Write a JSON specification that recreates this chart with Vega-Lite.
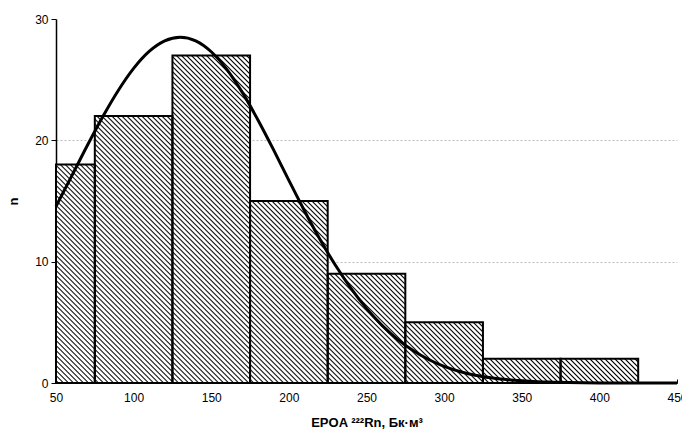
{
  "$schema": "https://vega.github.io/schema/vega-lite/v6.json",
  "autosize": "none",
  "width": 621,
  "height": 364,
  "padding": {"left": 56, "top": 19, "right": 5, "bottom": 50},
  "background": "white",
  "config": {"view": {"stroke": null}, "font": "Liberation Sans"},
  "datasets": {
    "bins": [
      {"bin_start": 50, "bin_end": 75, "n": 18},
      {"bin_start": 75, "bin_end": 125, "n": 22},
      {"bin_start": 125, "bin_end": 175, "n": 27},
      {"bin_start": 175, "bin_end": 225, "n": 15},
      {"bin_start": 225, "bin_end": 275, "n": 9},
      {"bin_start": 275, "bin_end": 325, "n": 5},
      {"bin_start": 325, "bin_end": 375, "n": 2},
      {"bin_start": 375, "bin_end": 425, "n": 2}
    ],
    "curve": [
      {"x": 50, "n": 14.56}, {"x": 60, "n": 17.03}, {"x": 70, "n": 19.53}, {"x": 80, "n": 21.92},
      {"x": 90, "n": 24.09}, {"x": 100, "n": 25.93}, {"x": 110, "n": 27.33}, {"x": 120, "n": 28.2},
      {"x": 130, "n": 28.5}, {"x": 140, "n": 28.2}, {"x": 150, "n": 27.3}, {"x": 160, "n": 25.85},
      {"x": 170, "n": 23.95}, {"x": 180, "n": 21.7}, {"x": 190, "n": 19.25}, {"x": 200, "n": 16.7},
      {"x": 210, "n": 14.2}, {"x": 220, "n": 11.85}, {"x": 230, "n": 9.7}, {"x": 240, "n": 7.8},
      {"x": 250, "n": 6.15}, {"x": 260, "n": 4.75}, {"x": 270, "n": 3.6}, {"x": 280, "n": 2.68},
      {"x": 290, "n": 1.94}, {"x": 300, "n": 1.37}, {"x": 310, "n": 0.95}, {"x": 320, "n": 0.64},
      {"x": 330, "n": 0.43}, {"x": 340, "n": 0.28}, {"x": 350, "n": 0.18}, {"x": 360, "n": 0.11},
      {"x": 370, "n": 0.07}, {"x": 380, "n": 0.04}, {"x": 390, "n": 0.02}, {"x": 400, "n": 0.01},
      {"x": 410, "n": 0.01}, {"x": 420, "n": 0.0}, {"x": 430, "n": 0.0}, {"x": 440, "n": 0.0},
      {"x": 450, "n": 0.0}
    ]
  },
  "layer": [
    {
      "data": {"name": "bins"},
      "transform": [{"fold": ["bin_start", "bin_end"], "as": ["edge", "x"]}],
      "mark": {
        "type": "area",
        "interpolate": "linear",
        "orient": "vertical",
        "fill": {
          "gradient": "linear",
          "x1": 0, "y1": 1, "x2": 1.1869, "y2": 0.3321,
          "stops": [
{"offset":0.0012,"color":"#fff"},{"offset":0.0028,"color":"#000"},{"offset":0.0044,"color":"#fff"},
{"offset":0.0067,"color":"#fff"},{"offset":0.0083,"color":"#000"},{"offset":0.0099,"color":"#fff"},
{"offset":0.0122,"color":"#fff"},{"offset":0.0138,"color":"#000"},{"offset":0.0154,"color":"#fff"},
{"offset":0.0177,"color":"#fff"},{"offset":0.0193,"color":"#000"},{"offset":0.0209,"color":"#fff"},
{"offset":0.0232,"color":"#fff"},{"offset":0.0248,"color":"#000"},{"offset":0.0264,"color":"#fff"},
{"offset":0.0287,"color":"#fff"},{"offset":0.0303,"color":"#000"},{"offset":0.0319,"color":"#fff"},
{"offset":0.0342,"color":"#fff"},{"offset":0.0358,"color":"#000"},{"offset":0.0374,"color":"#fff"},
{"offset":0.0397,"color":"#fff"},{"offset":0.0413,"color":"#000"},{"offset":0.0429,"color":"#fff"},
{"offset":0.0452,"color":"#fff"},{"offset":0.0468,"color":"#000"},{"offset":0.0484,"color":"#fff"},
{"offset":0.0507,"color":"#fff"},{"offset":0.0523,"color":"#000"},{"offset":0.0539,"color":"#fff"},
{"offset":0.0562,"color":"#fff"},{"offset":0.0578,"color":"#000"},{"offset":0.0594,"color":"#fff"},
{"offset":0.0617,"color":"#fff"},{"offset":0.0633,"color":"#000"},{"offset":0.0649,"color":"#fff"},
{"offset":0.0672,"color":"#fff"},{"offset":0.0688,"color":"#000"},{"offset":0.0704,"color":"#fff"},
{"offset":0.0727,"color":"#fff"},{"offset":0.0743,"color":"#000"},{"offset":0.0759,"color":"#fff"},
{"offset":0.0782,"color":"#fff"},{"offset":0.0798,"color":"#000"},{"offset":0.0814,"color":"#fff"},
{"offset":0.0837,"color":"#fff"},{"offset":0.0853,"color":"#000"},{"offset":0.0869,"color":"#fff"},
{"offset":0.0892,"color":"#fff"},{"offset":0.0908,"color":"#000"},{"offset":0.0924,"color":"#fff"},
{"offset":0.0947,"color":"#fff"},{"offset":0.0963,"color":"#000"},{"offset":0.0979,"color":"#fff"},
{"offset":0.1002,"color":"#fff"},{"offset":0.1018,"color":"#000"},{"offset":0.1034,"color":"#fff"},
{"offset":0.1057,"color":"#fff"},{"offset":0.1073,"color":"#000"},{"offset":0.1089,"color":"#fff"},
{"offset":0.1112,"color":"#fff"},{"offset":0.1128,"color":"#000"},{"offset":0.1144,"color":"#fff"},
{"offset":0.1167,"color":"#fff"},{"offset":0.1183,"color":"#000"},{"offset":0.1199,"color":"#fff"},
{"offset":0.1222,"color":"#fff"},{"offset":0.1238,"color":"#000"},{"offset":0.1254,"color":"#fff"},
{"offset":0.1277,"color":"#fff"},{"offset":0.1293,"color":"#000"},{"offset":0.1309,"color":"#fff"},
{"offset":0.1332,"color":"#fff"},{"offset":0.1348,"color":"#000"},{"offset":0.1364,"color":"#fff"},
{"offset":0.1387,"color":"#fff"},{"offset":0.1403,"color":"#000"},{"offset":0.1419,"color":"#fff"},
{"offset":0.1442,"color":"#fff"},{"offset":0.1458,"color":"#000"},{"offset":0.1474,"color":"#fff"},
{"offset":0.1497,"color":"#fff"},{"offset":0.1513,"color":"#000"},{"offset":0.1529,"color":"#fff"},
{"offset":0.1552,"color":"#fff"},{"offset":0.1568,"color":"#000"},{"offset":0.1584,"color":"#fff"},
{"offset":0.1607,"color":"#fff"},{"offset":0.1623,"color":"#000"},{"offset":0.1639,"color":"#fff"},
{"offset":0.1662,"color":"#fff"},{"offset":0.1678,"color":"#000"},{"offset":0.1694,"color":"#fff"},
{"offset":0.1717,"color":"#fff"},{"offset":0.1733,"color":"#000"},{"offset":0.1749,"color":"#fff"},
{"offset":0.1772,"color":"#fff"},{"offset":0.1788,"color":"#000"},{"offset":0.1804,"color":"#fff"},
{"offset":0.1827,"color":"#fff"},{"offset":0.1843,"color":"#000"},{"offset":0.1859,"color":"#fff"},
{"offset":0.1882,"color":"#fff"},{"offset":0.1898,"color":"#000"},{"offset":0.1914,"color":"#fff"},
{"offset":0.1937,"color":"#fff"},{"offset":0.1953,"color":"#000"},{"offset":0.1969,"color":"#fff"},
{"offset":0.1992,"color":"#fff"},{"offset":0.2008,"color":"#000"},{"offset":0.2024,"color":"#fff"},
{"offset":0.2047,"color":"#fff"},{"offset":0.2063,"color":"#000"},{"offset":0.2079,"color":"#fff"},
{"offset":0.2102,"color":"#fff"},{"offset":0.2118,"color":"#000"},{"offset":0.2134,"color":"#fff"},
{"offset":0.2157,"color":"#fff"},{"offset":0.2173,"color":"#000"},{"offset":0.2189,"color":"#fff"},
{"offset":0.2212,"color":"#fff"},{"offset":0.2228,"color":"#000"},{"offset":0.2244,"color":"#fff"},
{"offset":0.2267,"color":"#fff"},{"offset":0.2283,"color":"#000"},{"offset":0.2299,"color":"#fff"},
{"offset":0.2322,"color":"#fff"},{"offset":0.2338,"color":"#000"},{"offset":0.2354,"color":"#fff"},
{"offset":0.2377,"color":"#fff"},{"offset":0.2393,"color":"#000"},{"offset":0.2409,"color":"#fff"},
{"offset":0.2432,"color":"#fff"},{"offset":0.2448,"color":"#000"},{"offset":0.2464,"color":"#fff"},
{"offset":0.2487,"color":"#fff"},{"offset":0.2503,"color":"#000"},{"offset":0.2519,"color":"#fff"},
{"offset":0.2542,"color":"#fff"},{"offset":0.2558,"color":"#000"},{"offset":0.2574,"color":"#fff"},
{"offset":0.2597,"color":"#fff"},{"offset":0.2613,"color":"#000"},{"offset":0.2629,"color":"#fff"},
{"offset":0.2652,"color":"#fff"},{"offset":0.2668,"color":"#000"},{"offset":0.2684,"color":"#fff"},
{"offset":0.2707,"color":"#fff"},{"offset":0.2723,"color":"#000"},{"offset":0.2739,"color":"#fff"},
{"offset":0.2762,"color":"#fff"},{"offset":0.2778,"color":"#000"},{"offset":0.2794,"color":"#fff"},
{"offset":0.2817,"color":"#fff"},{"offset":0.2833,"color":"#000"},{"offset":0.2849,"color":"#fff"},
{"offset":0.2872,"color":"#fff"},{"offset":0.2888,"color":"#000"},{"offset":0.2904,"color":"#fff"},
{"offset":0.2927,"color":"#fff"},{"offset":0.2943,"color":"#000"},{"offset":0.2959,"color":"#fff"},
{"offset":0.2982,"color":"#fff"},{"offset":0.2998,"color":"#000"},{"offset":0.3014,"color":"#fff"},
{"offset":0.3037,"color":"#fff"},{"offset":0.3053,"color":"#000"},{"offset":0.3069,"color":"#fff"},
{"offset":0.3092,"color":"#fff"},{"offset":0.3108,"color":"#000"},{"offset":0.3124,"color":"#fff"},
{"offset":0.3147,"color":"#fff"},{"offset":0.3163,"color":"#000"},{"offset":0.3179,"color":"#fff"},
{"offset":0.3202,"color":"#fff"},{"offset":0.3218,"color":"#000"},{"offset":0.3234,"color":"#fff"},
{"offset":0.3257,"color":"#fff"},{"offset":0.3273,"color":"#000"},{"offset":0.3289,"color":"#fff"},
{"offset":0.3312,"color":"#fff"},{"offset":0.3328,"color":"#000"},{"offset":0.3344,"color":"#fff"},
{"offset":0.3367,"color":"#fff"},{"offset":0.3383,"color":"#000"},{"offset":0.3399,"color":"#fff"},
{"offset":0.3422,"color":"#fff"},{"offset":0.3438,"color":"#000"},{"offset":0.3454,"color":"#fff"},
{"offset":0.3477,"color":"#fff"},{"offset":0.3493,"color":"#000"},{"offset":0.3509,"color":"#fff"},
{"offset":0.3532,"color":"#fff"},{"offset":0.3548,"color":"#000"},{"offset":0.3564,"color":"#fff"},
{"offset":0.3587,"color":"#fff"},{"offset":0.3603,"color":"#000"},{"offset":0.3619,"color":"#fff"},
{"offset":0.3642,"color":"#fff"},{"offset":0.3658,"color":"#000"},{"offset":0.3674,"color":"#fff"},
{"offset":0.3697,"color":"#fff"},{"offset":0.3713,"color":"#000"},{"offset":0.3729,"color":"#fff"},
{"offset":0.3752,"color":"#fff"},{"offset":0.3768,"color":"#000"},{"offset":0.3784,"color":"#fff"},
{"offset":0.3807,"color":"#fff"},{"offset":0.3823,"color":"#000"},{"offset":0.3839,"color":"#fff"},
{"offset":0.3862,"color":"#fff"},{"offset":0.3878,"color":"#000"},{"offset":0.3894,"color":"#fff"},
{"offset":0.3917,"color":"#fff"},{"offset":0.3933,"color":"#000"},{"offset":0.3949,"color":"#fff"},
{"offset":0.3972,"color":"#fff"},{"offset":0.3988,"color":"#000"},{"offset":0.4004,"color":"#fff"},
{"offset":0.4027,"color":"#fff"},{"offset":0.4043,"color":"#000"},{"offset":0.4059,"color":"#fff"},
{"offset":0.4082,"color":"#fff"},{"offset":0.4098,"color":"#000"},{"offset":0.4114,"color":"#fff"},
{"offset":0.4137,"color":"#fff"},{"offset":0.4153,"color":"#000"},{"offset":0.4169,"color":"#fff"},
{"offset":0.4192,"color":"#fff"},{"offset":0.4208,"color":"#000"},{"offset":0.4224,"color":"#fff"},
{"offset":0.4247,"color":"#fff"},{"offset":0.4263,"color":"#000"},{"offset":0.4279,"color":"#fff"},
{"offset":0.4302,"color":"#fff"},{"offset":0.4318,"color":"#000"},{"offset":0.4334,"color":"#fff"},
{"offset":0.4357,"color":"#fff"},{"offset":0.4373,"color":"#000"},{"offset":0.4389,"color":"#fff"},
{"offset":0.4412,"color":"#fff"},{"offset":0.4428,"color":"#000"},{"offset":0.4444,"color":"#fff"},
{"offset":0.4467,"color":"#fff"},{"offset":0.4483,"color":"#000"},{"offset":0.4499,"color":"#fff"},
{"offset":0.4522,"color":"#fff"},{"offset":0.4538,"color":"#000"},{"offset":0.4554,"color":"#fff"},
{"offset":0.4577,"color":"#fff"},{"offset":0.4593,"color":"#000"},{"offset":0.4609,"color":"#fff"},
{"offset":0.4632,"color":"#fff"},{"offset":0.4648,"color":"#000"},{"offset":0.4664,"color":"#fff"},
{"offset":0.4687,"color":"#fff"},{"offset":0.4703,"color":"#000"},{"offset":0.4719,"color":"#fff"},
{"offset":0.4742,"color":"#fff"},{"offset":0.4758,"color":"#000"},{"offset":0.4774,"color":"#fff"},
{"offset":0.4797,"color":"#fff"},{"offset":0.4813,"color":"#000"},{"offset":0.4829,"color":"#fff"},
{"offset":0.4852,"color":"#fff"},{"offset":0.4868,"color":"#000"},{"offset":0.4884,"color":"#fff"},
{"offset":0.4907,"color":"#fff"},{"offset":0.4923,"color":"#000"},{"offset":0.4939,"color":"#fff"},
{"offset":0.4962,"color":"#fff"},{"offset":0.4978,"color":"#000"},{"offset":0.4994,"color":"#fff"},
{"offset":0.5017,"color":"#fff"},{"offset":0.5033,"color":"#000"},{"offset":0.5049,"color":"#fff"},
{"offset":0.5072,"color":"#fff"},{"offset":0.5088,"color":"#000"},{"offset":0.5104,"color":"#fff"},
{"offset":0.5127,"color":"#fff"},{"offset":0.5143,"color":"#000"},{"offset":0.5159,"color":"#fff"},
{"offset":0.5182,"color":"#fff"},{"offset":0.5198,"color":"#000"},{"offset":0.5214,"color":"#fff"},
{"offset":0.5237,"color":"#fff"},{"offset":0.5253,"color":"#000"},{"offset":0.5269,"color":"#fff"},
{"offset":0.5292,"color":"#fff"},{"offset":0.5308,"color":"#000"},{"offset":0.5324,"color":"#fff"},
{"offset":0.5347,"color":"#fff"},{"offset":0.5363,"color":"#000"},{"offset":0.5379,"color":"#fff"},
{"offset":0.5402,"color":"#fff"},{"offset":0.5418,"color":"#000"},{"offset":0.5434,"color":"#fff"},
{"offset":0.5457,"color":"#fff"},{"offset":0.5473,"color":"#000"},{"offset":0.5489,"color":"#fff"},
{"offset":0.5512,"color":"#fff"},{"offset":0.5528,"color":"#000"},{"offset":0.5544,"color":"#fff"},
{"offset":0.5567,"color":"#fff"},{"offset":0.5583,"color":"#000"},{"offset":0.5599,"color":"#fff"},
{"offset":0.5622,"color":"#fff"},{"offset":0.5638,"color":"#000"},{"offset":0.5654,"color":"#fff"},
{"offset":0.5677,"color":"#fff"},{"offset":0.5693,"color":"#000"},{"offset":0.5709,"color":"#fff"},
{"offset":0.5732,"color":"#fff"},{"offset":0.5748,"color":"#000"},{"offset":0.5764,"color":"#fff"},
{"offset":0.5787,"color":"#fff"},{"offset":0.5803,"color":"#000"},{"offset":0.5819,"color":"#fff"},
{"offset":0.5842,"color":"#fff"},{"offset":0.5858,"color":"#000"},{"offset":0.5874,"color":"#fff"},
{"offset":0.5897,"color":"#fff"},{"offset":0.5913,"color":"#000"},{"offset":0.5929,"color":"#fff"},
{"offset":0.5952,"color":"#fff"},{"offset":0.5968,"color":"#000"},{"offset":0.5984,"color":"#fff"},
{"offset":0.6007,"color":"#fff"},{"offset":0.6023,"color":"#000"},{"offset":0.6039,"color":"#fff"},
{"offset":0.6062,"color":"#fff"},{"offset":0.6078,"color":"#000"},{"offset":0.6094,"color":"#fff"},
{"offset":0.6117,"color":"#fff"},{"offset":0.6133,"color":"#000"},{"offset":0.6149,"color":"#fff"},
{"offset":0.6172,"color":"#fff"},{"offset":0.6188,"color":"#000"},{"offset":0.6204,"color":"#fff"},
{"offset":0.6227,"color":"#fff"},{"offset":0.6243,"color":"#000"},{"offset":0.6259,"color":"#fff"},
{"offset":0.6282,"color":"#fff"},{"offset":0.6298,"color":"#000"},{"offset":0.6314,"color":"#fff"},
{"offset":0.6337,"color":"#fff"},{"offset":0.6353,"color":"#000"},{"offset":0.6369,"color":"#fff"},
{"offset":0.6392,"color":"#fff"},{"offset":0.6408,"color":"#000"},{"offset":0.6424,"color":"#fff"},
{"offset":0.6447,"color":"#fff"},{"offset":0.6463,"color":"#000"},{"offset":0.6479,"color":"#fff"},
{"offset":0.6502,"color":"#fff"},{"offset":0.6518,"color":"#000"},{"offset":0.6534,"color":"#fff"},
{"offset":0.6557,"color":"#fff"},{"offset":0.6573,"color":"#000"},{"offset":0.6589,"color":"#fff"},
{"offset":0.6612,"color":"#fff"},{"offset":0.6628,"color":"#000"},{"offset":0.6644,"color":"#fff"},
{"offset":0.6667,"color":"#fff"},{"offset":0.6683,"color":"#000"},{"offset":0.6699,"color":"#fff"}
          ]
        }
      },
      "encoding": {
        "x": {"field": "x", "type": "quantitative", "scale": {"domain": [50, 450], "nice": false, "zero": false},
          "axis": {"values": [50, 100, 150, 200, 250, 300, 350, 400, 450], "title": "EPOA ²²²Rn, Бк·м³",
            "grid": false, "domainColor": "#000", "domainWidth": 1, "tickColor": "#000", "tickSize": -4,
            "labelFont": "Liberation Sans", "labelFontSize": 12, "labelColor": "#000", "labelPadding": 13,
            "labelFlush": false, "labelOverlap": false,
            "titleFont": "Liberation Sans", "titleFontSize": 13, "titleFontWeight": "bold", "titleColor": "#000", "titlePadding": 13}},
        "y": {"field": "n", "type": "quantitative", "stack": null, "scale": {"domain": [0, 30], "nice": false},
          "axis": {"values": [0, 10, 20, 30], "title": "n", "grid": true, "gridDash": [2, 2], "gridColor": "#bbbbbb",
            "gridOpacity": {"condition": {"test": "datum.value == 30", "value": 0}, "value": 1},
            "domainColor": "#000", "domainWidth": 1.5, "tickColor": "#000", "tickSize": 5,
            "labelFont": "Liberation Sans", "labelFontSize": 12, "labelColor": "#000", "labelPadding": 3,
            "titleFont": "Liberation Sans", "titleFontSize": 13, "titleFontWeight": "bold", "titleColor": "#000", "titlePadding": 14}}
      }
    },
    {
      "data": {"name": "bins"},
      "mark": {"type": "rect", "fill": null, "fillOpacity": 0, "stroke": "#000", "strokeWidth": 2},
      "encoding": {
        "x": {"field": "bin_start", "type": "quantitative"},
        "x2": {"field": "bin_end"},
        "y": {"field": "n", "type": "quantitative", "stack": null},
        "y2": {"datum": 0}
      }
    },
    {
      "data": {"name": "curve"},
      "mark": {"type": "line", "color": "#000", "strokeWidth": 3, "interpolate": "monotone"},
      "encoding": {
        "x": {"field": "x", "type": "quantitative"},
        "y": {"field": "n", "type": "quantitative"}
      }
    }
  ]
}
